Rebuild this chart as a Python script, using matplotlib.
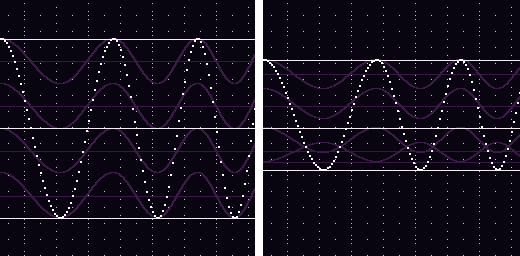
import numpy as np
import matplotlib
matplotlib.use("Agg")
import matplotlib.pyplot as plt

# ----------------------------
# data (screen units, y grows downwards)
# ----------------------------
# turning points of the traced wave, measured from each panel's left edge
turn_x = [0, 60, 113, 157, 197, 234, 269]
turn_level = [0, 1, 0, 1, 0, 1, 0]      # 0 = top of trace, 1 = bottom

left_x0, left_x1 = 0, 255
left_trace = (38, 217)
left_white_lines = [38, 127, 217]
left_purple_lines = [60, 105, 150, 195]
left_bands = [(38, 83), (83, 128), (128, 172), (172, 217)]
left_flip = [False, False, False, False]

right_x0, right_x1 = 263, 520
right_trace = (59, 169)
right_white_lines = [59, 127, 169]
right_purple_lines = [73, 105, 150, 161]
right_bands = [(59, 88), (88, 118), (127, 152), (142, 161)]
right_flip = [False, False, False, True]

# ----------------------------
# colours
# ----------------------------
bg = '#080410'
c_white = '#f6f0f6'
c_purple_line = '#3a1846'
c_purple_wave = '#3d1a49'
c_orange = '#f2c18f'
c_blue = '#9fd3ea'

px = 0.72  # one pixel in points at dpi 100


def level_at(xr):
    # cosine step between the turning points
    out = np.zeros_like(xr, dtype=float)
    for i in range(len(turn_x) - 1):
        a, b = turn_x[i], turn_x[i + 1]
        m = (xr >= a) & (xr <= b)
        t = (xr[m] - a) / (b - a)
        s = (1 - np.cos(np.pi * t)) / 2
        out[m] = turn_level[i] + (turn_level[i + 1] - turn_level[i]) * s
    return out


def grid_dots(ax, x0, x1):
    xs, ys, cs = [], [], []
    for gx in range(8, x1 - x0, 16):
        if gx % 32 == 8:
            rows = range(15, 256, 16)
        elif gx % 64 == 24:
            rows = [y for y in range(3, 256, 4) if y % 16 != 7]
        else:
            rows = range(7, 256, 8)
        for gy in rows:
            xs.append(x0 + gx + 0.5)
            ys.append(gy + 0.5)
            cs.append(c_orange if (gy % 128) < 64 else c_blue)
    ax.scatter(xs, ys, s=0.8, marker='s', c=cs, linewidths=0,
               antialiased=False, zorder=1)


def panel(x0, x1, trace, white_lines, purple_lines, bands, flip):
    ax = fig.add_axes([x0 / 520, 0, (x1 - x0) / 520, 1])
    ax.set_xlim(x0, x1)
    ax.set_ylim(256, 0)
    ax.set_facecolor(bg)
    ax.set_xticks([])
    ax.set_yticks([])
    for s in ax.spines.values():
        s.set_visible(False)

    grid_dots(ax, x0, x1)

    for y in purple_lines:
        ax.axhline(y + 0.5, color=c_purple_line, lw=px, antialiased=False, zorder=2)

    xr = np.arange(0, x1 - x0 + 1, 1.0)
    lev = level_at(xr)
    for (top, bot), f in zip(bands, flip):
        l = 1 - lev if f else lev
        ax.plot(x0 + xr + 0.5, np.round(top + l * (bot - top)) + 0.5, color=c_purple_wave,
                lw=0.5, antialiased=False, zorder=3)

    for y in white_lines:
        ax.axhline(y + 0.5, color=c_white, lw=px, antialiased=False, zorder=4)

    xd = np.arange(0, x1 - x0, 2.0)
    ld = level_at(xd)
    top, bot = trace
    yd = np.round(top + ld * (bot - top)) + 0.5
    dash = [(-1, -0.5), (1, -0.5), (1, 0.5), (-1, 0.5)]
    ax.scatter(x0 + xd + 1, yd, s=2.1, marker=dash, color='white', linewidths=0,
               antialiased=False, zorder=5)


fig = plt.figure(figsize=(5.2, 2.56), dpi=100)
fig.patch.set_facecolor('white')

panel(left_x0, left_x1, left_trace, left_white_lines, left_purple_lines, left_bands, left_flip)
panel(right_x0, right_x1, right_trace, right_white_lines, right_purple_lines, right_bands, right_flip)

fig.savefig('out.png', dpi=100, facecolor='white')
